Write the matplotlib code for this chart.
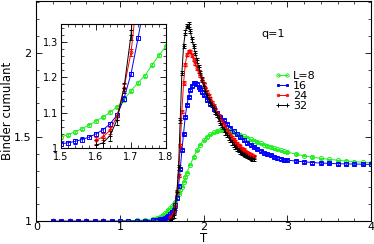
import numpy as np
import matplotlib
matplotlib.use('Agg')
import matplotlib.pyplot as plt
from matplotlib.ticker import MultipleLocator
from matplotlib.lines import Line2D

# L=8
T8 = [1.0, 1.1, 1.2, 1.3, 1.4, 1.44, 1.48,
      1.50, 1.52, 1.54, 1.56, 1.58, 1.60, 1.62, 1.64, 1.66, 1.68, 1.70, 1.72, 1.74, 1.76, 1.78, 1.80,
      1.84, 1.88, 1.92, 1.96, 2.00, 2.04, 2.08, 2.12, 2.16, 2.20, 2.24, 2.28, 2.32, 2.36, 2.40,
      2.44, 2.48, 2.52, 2.56, 2.60, 2.64, 2.68, 2.72, 2.76, 2.80, 2.84, 2.88, 2.92, 2.96, 3.00,
      3.1, 3.2, 3.3, 3.4, 3.5, 3.6, 3.7, 3.8, 3.9, 4.0]
B8 = [1.001, 1.002, 1.004, 1.007, 1.013, 1.018, 1.025,
      1.031, 1.038, 1.046, 1.055, 1.065, 1.076, 1.088, 1.101, 1.116, 1.137, 1.162, 1.185, 1.205, 1.235, 1.262, 1.288,
      1.335, 1.38, 1.42, 1.455, 1.48, 1.50, 1.515, 1.527, 1.535, 1.540, 1.542, 1.540, 1.535, 1.528, 1.52,
      1.512, 1.503, 1.495, 1.486, 1.478, 1.47, 1.462, 1.454, 1.447, 1.44, 1.433, 1.427, 1.421, 1.415, 1.41,
      1.398, 1.388, 1.38, 1.373, 1.367, 1.362, 1.357, 1.353, 1.35, 1.347]

# L=16
T16 = [0.2, 0.3, 0.4, 0.5, 0.6, 0.7, 0.8, 0.9, 1.0, 1.1, 1.2, 1.3, 1.4, 1.44, 1.48,
       1.50, 1.52, 1.54, 1.56, 1.58, 1.60, 1.62, 1.64, 1.66, 1.68, 1.70, 1.72, 1.74, 1.76, 1.78, 1.80,
       1.82, 1.84, 1.86, 1.88, 1.90, 1.92, 1.94, 1.96, 1.98, 2.00, 2.04, 2.08, 2.12, 2.16, 2.20,
       2.24, 2.28, 2.32, 2.36, 2.40, 2.44, 2.48, 2.52, 2.56, 2.60, 2.64, 2.68, 2.72, 2.76, 2.80,
       2.84, 2.88, 2.92, 2.96, 3.00, 3.1, 3.2, 3.3, 3.4, 3.5, 3.6, 3.7, 3.8, 3.9, 4.0]
B16 = [1.0, 1.0, 1.0, 1.0, 1.0, 1.0, 1.0, 1.0, 1.0, 1.0005, 1.001, 1.002, 1.005, 1.007, 1.010,
       1.012, 1.015, 1.019, 1.024, 1.031, 1.040, 1.052, 1.068, 1.093, 1.14, 1.21, 1.31, 1.42, 1.52, 1.62, 1.69,
       1.74, 1.78, 1.805, 1.818, 1.82, 1.812, 1.80, 1.785, 1.768, 1.75, 1.722, 1.695, 1.668, 1.645, 1.62,
       1.598, 1.575, 1.555, 1.535, 1.515, 1.497, 1.482, 1.467, 1.453, 1.44, 1.428, 1.417, 1.407, 1.398, 1.39,
       1.383, 1.377, 1.371, 1.366, 1.362, 1.357, 1.352, 1.348, 1.345, 1.343, 1.341, 1.34, 1.339, 1.338, 1.337]

# L=24 and L=32 share temperatures
T24 = [1.60, 1.62, 1.64, 1.66, 1.68, 1.70, 1.72, 1.74, 1.76, 1.78, 1.80, 1.82, 1.84, 1.86, 1.88,
       1.90, 1.92, 1.94, 1.96, 1.98, 2.00, 2.02, 2.04, 2.06, 2.08, 2.10, 2.12, 2.14, 2.16, 2.18,
       2.20, 2.22, 2.24, 2.26, 2.28, 2.30, 2.32, 2.34, 2.36, 2.38, 2.40, 2.42, 2.44, 2.46, 2.48,
       2.50, 2.52, 2.54, 2.56, 2.58, 2.60]
B24 = [1.022, 1.032, 1.05, 1.09, 1.17, 1.27, 1.45, 1.65, 1.82, 1.93, 1.99, 2.01, 2.01, 1.985, 1.96,
       1.935, 1.91, 1.89, 1.865, 1.84, 1.815, 1.79, 1.77, 1.745, 1.725, 1.705, 1.685, 1.665, 1.645, 1.625,
       1.607, 1.59, 1.573, 1.556, 1.54, 1.525, 1.51, 1.497, 1.484, 1.472, 1.461, 1.45, 1.44, 1.431, 1.422,
       1.414, 1.407, 1.40, 1.394, 1.389, 1.385]
T32 = T24
B32 = [1.008, 1.015, 1.035, 1.08, 1.17, 1.32, 1.6, 1.88, 2.04, 2.12, 2.16, 2.17, 2.13, 2.08, 2.04,
       2.0, 1.955, 1.915, 1.88, 1.84, 1.805, 1.775, 1.75, 1.725, 1.705, 1.69, 1.67, 1.65, 1.63, 1.61,
       1.585, 1.562, 1.545, 1.528, 1.512, 1.497, 1.482, 1.468, 1.455, 1.443, 1.432, 1.422, 1.413, 1.405, 1.398,
       1.392, 1.386, 1.381, 1.377, 1.373, 1.37]

series = [
    (T8, B8, 0.004, '#22ee22', 'o', 3.0, 'L=8'),
    (T16, B16, 0.006, '#0000ff', 's', 2.5, '16'),
    (T24, B24, 0.010, '#ff0000', 'o', 2.2, '24'),
    (T32, B32, 0.014, '#000000', '+', 3.0, '32'),
]

def draw(ax):
    for t, b, e, c, m, ms, lab in series:
        ax.errorbar(t, b, yerr=e, color=c, marker=m, ms=ms, mfc='none', mew=0.7,
                    lw=0.7, elinewidth=0.6, capsize=1.5, capthick=0.6)

def style(ax, size):
    ax.tick_params(which='both', direction='in', top=True, right=True, labelsize=size)
    ax.tick_params(which='major', length=4, width=0.6)
    ax.tick_params(which='minor', length=2, width=0.5)
    for s in ax.spines.values():
        s.set_linewidth(0.8)

fig = plt.figure(figsize=(3.74, 2.44), dpi=100)
ax = fig.add_axes([0.097, 0.094, 0.895, 0.903])
draw(ax)
ax.set_xlim(0, 4)
ax.set_ylim(1, 2.31)
ax.xaxis.set_major_locator(MultipleLocator(1))
ax.xaxis.set_minor_locator(MultipleLocator(0.2))
ax.yaxis.set_minor_locator(MultipleLocator(0.1))
ax.set_yticks([1, 1.5, 2])
ax.set_yticklabels(['1', '1.5', '2'])
style(ax, 8)
ax.tick_params(axis='x', pad=1)
ax.set_xlabel('T', fontsize=8.5, labelpad=0)
ax.set_ylabel('Binder cumulant', fontsize=8.5, labelpad=0)
ax.text(0.707, 0.85, 'q=1', transform=ax.transAxes, fontsize=8, ha='center', va='center')

handles = [Line2D([0], [0], color=c, marker=m, ms=ms * 0.8, mfc='none', mew=0.7, lw=0.7)
           for t, b, e, c, m, ms, lab in series]
labels = [s[-1] for s in series]
ax.legend(handles, labels, loc='upper left', bbox_to_anchor=(0.695, 0.705), frameon=False,
          fontsize=8, handlelength=1.4, handletextpad=0.25, labelspacing=0.0,
          borderpad=0, numpoints=2)

ins = fig.add_axes([0.163, 0.393, 0.281, 0.508])
draw(ins)
ins.set_xlim(1.5, 1.8)
ins.set_ylim(1, 1.35)
ins.set_xticks([1.5, 1.6, 1.7, 1.8])
ins.set_xticklabels(['1.5', '1.6', '1.7', '1.8'])
ins.set_yticks([1, 1.1, 1.2, 1.3])
ins.set_yticklabels(['1', '1.1', '1.2', '1.3'])
ins.xaxis.set_minor_locator(MultipleLocator(0.02))
ins.yaxis.set_minor_locator(MultipleLocator(0.02))
style(ins, 7)
ins.tick_params(axis='x', pad=2.5)
ins.tick_params(axis='y', pad=2)

fig.savefig('out.png', dpi=100)
